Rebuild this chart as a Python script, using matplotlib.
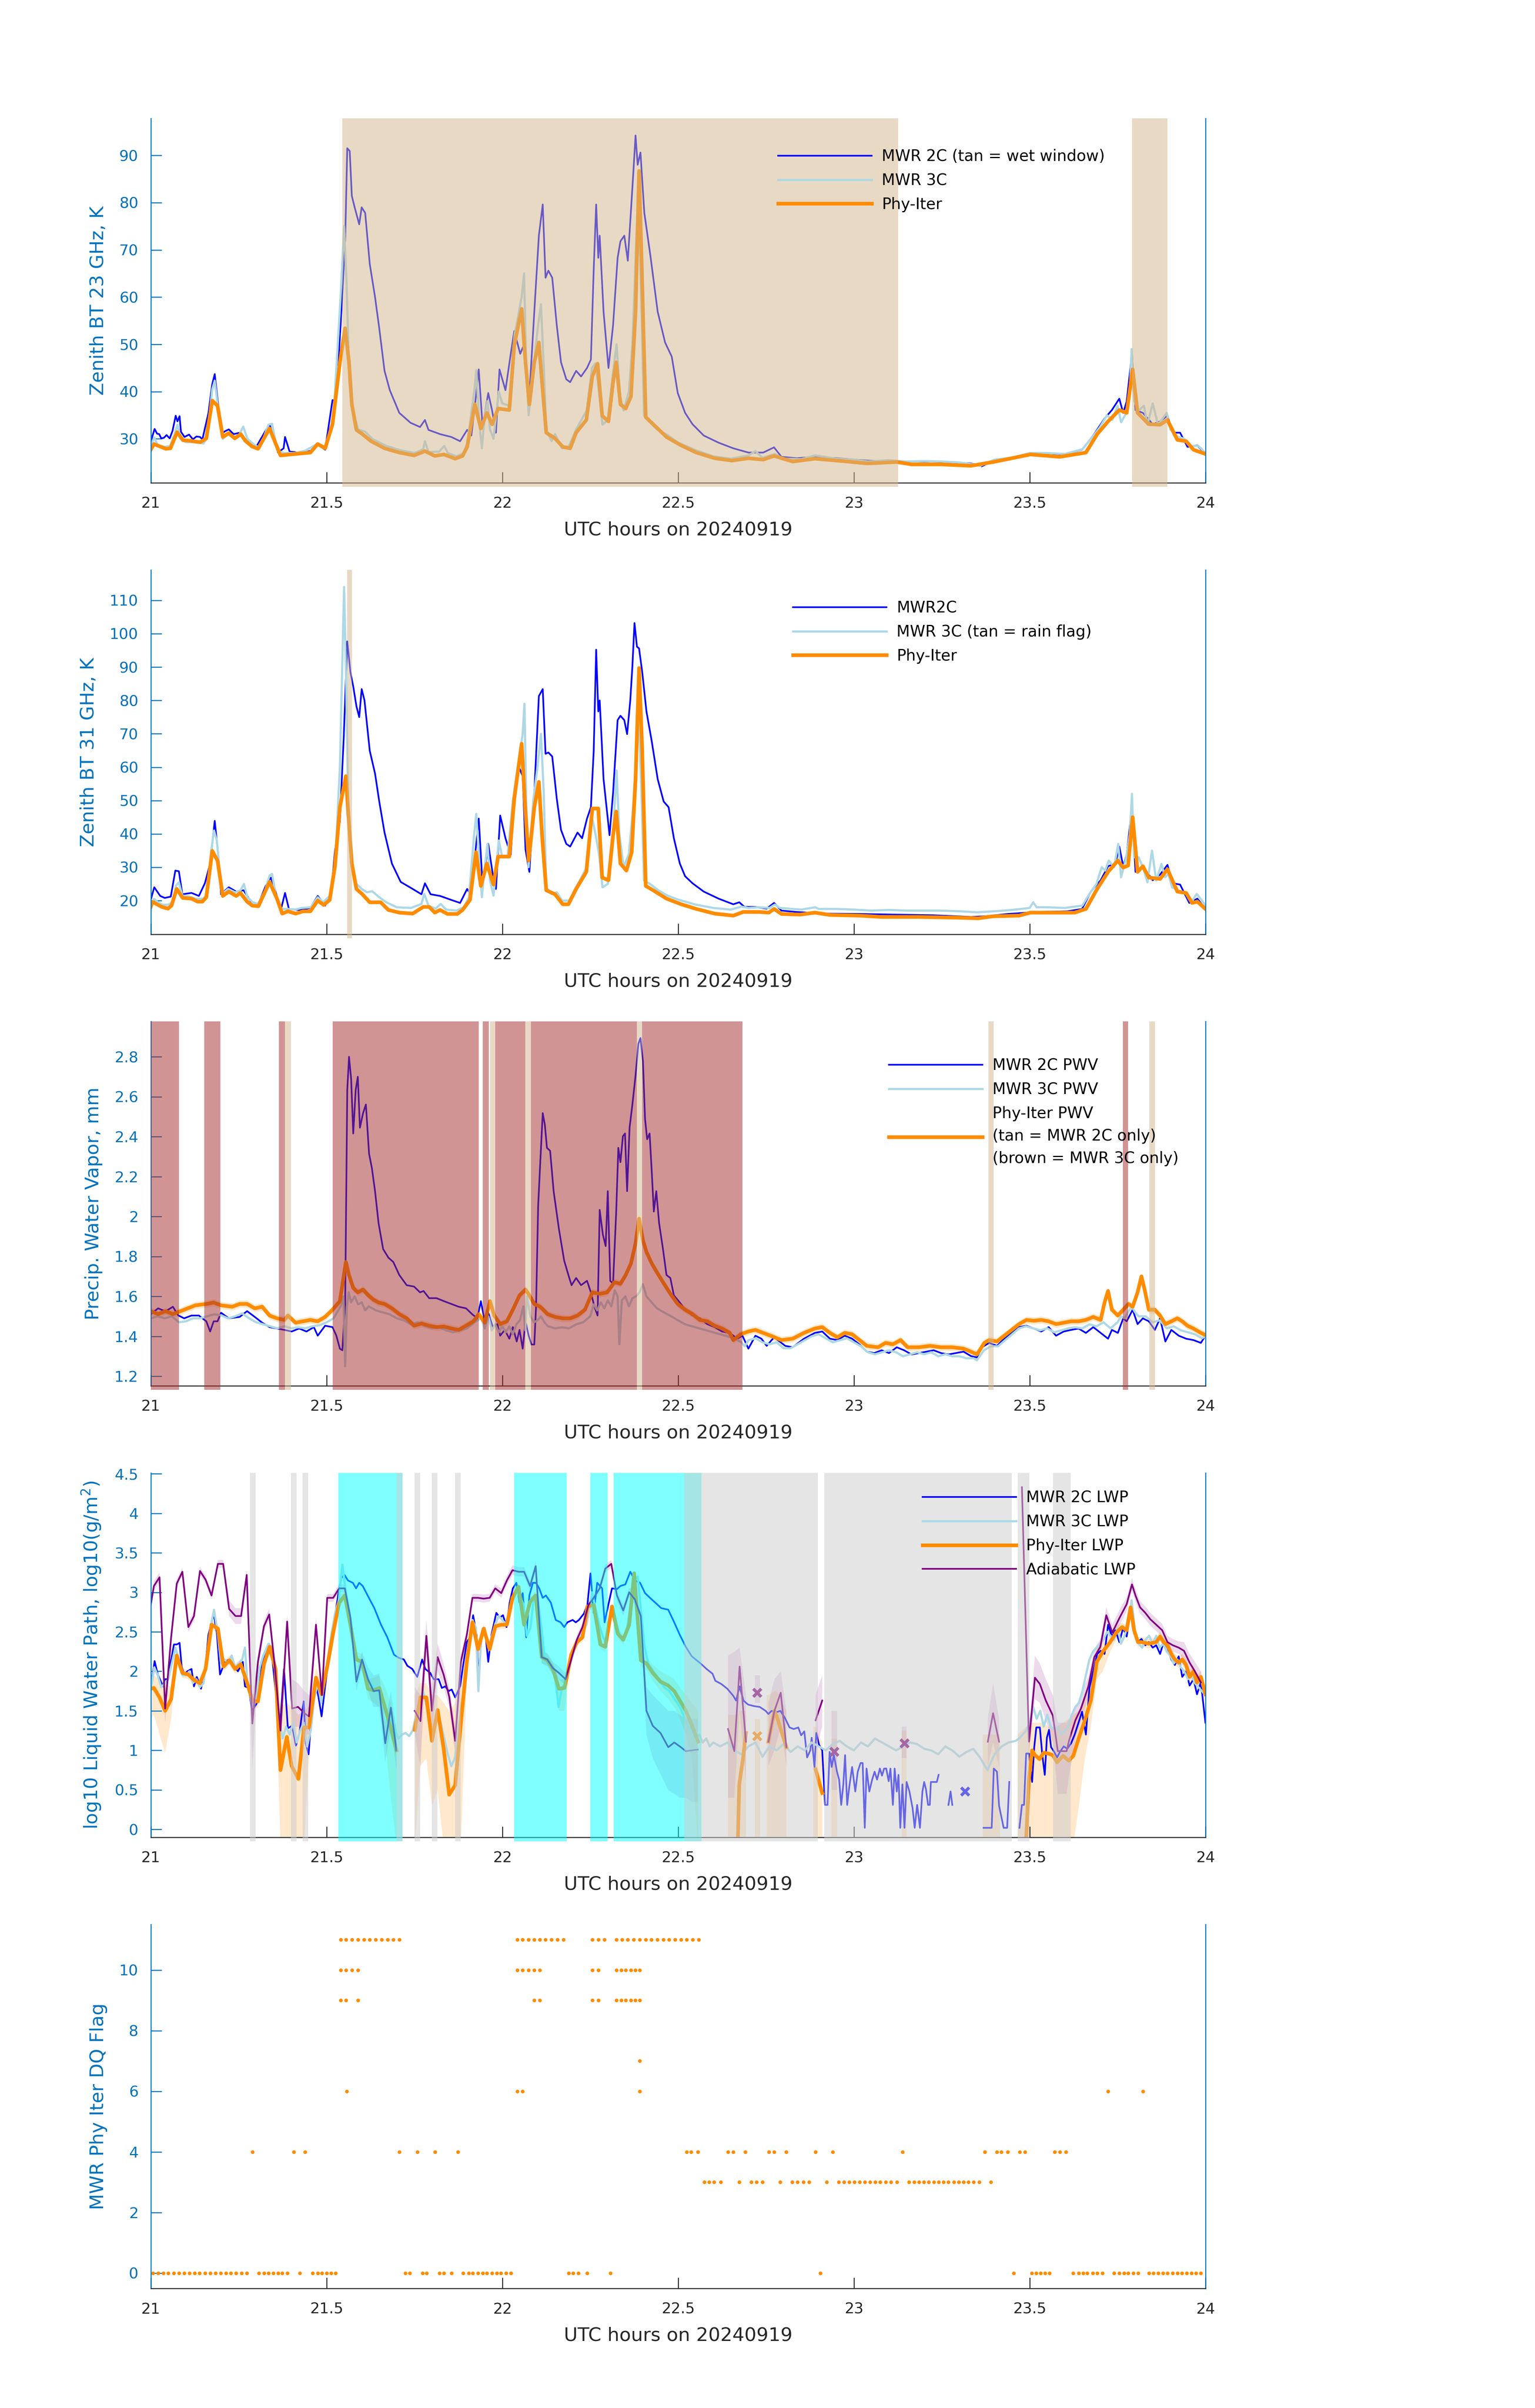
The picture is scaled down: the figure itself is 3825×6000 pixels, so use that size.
import numpy as np
import matplotlib
matplotlib.use('Agg')
import matplotlib.pyplot as plt
from matplotlib.ticker import FuncFormatter

nan = float('nan')

# ---------------- panel 1 : 23 GHz brightness temperature (hour, K) ----------------
bt23_2c = [(21.000,29.4),(21.011,32.1),(21.018,31.1),(21.024,31.0),(21.030,30.1),(21.037,30.2),(21.045,30.8),(21.054,30.1),
           (21.062,31.7),(21.071,34.9),(21.076,33.7),(21.082,34.8),(21.086,31.5),(21.096,30.4),(21.109,30.9),(21.120,29.9),
           (21.130,30.5),(21.140,30.4),(21.147,29.9),(21.154,32.2),(21.164,35.4),(21.175,41.6),(21.182,43.7),(21.188,39.7),
           (21.193,36.4),(21.202,31.1),(21.211,31.6),(21.222,32.0),(21.236,31.0),(21.253,31.3),(21.266,30.0),(21.280,29.7),
           (21.300,28.3),(21.325,31.5),(21.338,33.1),(21.350,30.0),(21.362,27.1),(21.378,28.0),(21.382,30.4),(21.395,27.3),
           (21.433,27.0),(21.460,27.6),(21.475,28.9),(21.496,27.7),(21.517,38.2),(21.527,38.0),(21.540,54.0),(21.553,71.8),
           (21.559,91.5),(21.566,90.9),(21.572,81.4),(21.580,79.0),(21.593,75.4),(21.600,79.0),(21.610,77.8),(21.623,67.0),
           (21.638,60.0),(21.650,53.4),(21.665,44.4),(21.680,40.3),(21.707,35.5),(21.739,33.4),(21.766,32.5),(21.780,34.0),
           (21.790,31.9),(21.823,31.0),(21.855,30.4),(21.880,29.5),(21.900,31.9),(21.912,30.7),(21.925,39.0),(21.933,44.7),
           (21.944,32.5),(21.960,39.7),(21.971,36.0),(21.982,31.3),(21.992,44.7),(22.009,40.3),(22.024,48.0),(22.034,52.8),
           (22.051,48.0),(22.062,50.0),(22.075,36.7),(22.091,56.9),(22.104,73.0),(22.115,79.6),(22.123,64.1),(22.131,65.6),
           (22.142,64.1),(22.155,54.0),(22.167,46.2),(22.182,42.6),(22.193,42.0),(22.210,44.4),(22.224,43.2),(22.241,45.0),
           (22.252,46.8),(22.260,65.9),(22.267,79.6),(22.273,68.3),(22.277,73.0),(22.288,56.9),(22.302,45.0),(22.315,54.0),
           (22.328,68.3),(22.336,71.8),(22.347,73.0),(22.357,67.7),(22.364,76.0),(22.372,85.5),(22.379,94.2),(22.385,88.0),
           (22.393,90.6),(22.404,77.8),(22.421,68.9),(22.442,56.9),(22.463,50.4),(22.482,47.4),(22.499,39.7),(22.520,35.5),
           (22.541,33.1),(22.573,30.7),(22.615,29.2),(22.657,28.0),(22.700,27.1),(22.742,27.1),(22.773,28.2),(22.794,26.2),
           (22.837,25.9),(22.889,26.2),(22.953,25.9),(23.037,25.4),(23.122,25.2),(23.227,25.2),(23.333,24.8),(23.364,24.2),
           (23.396,25.4),(23.450,25.9),(23.502,26.8),(23.586,26.5),(23.649,27.7),(23.681,30.7),(23.713,34.3),(23.734,36.1),
           (23.755,38.5),(23.766,35.5),(23.776,37.9),(23.791,48.0),(23.801,36.1),(23.822,35.5),(23.850,33.1),(23.871,33.7),
           (23.892,34.9),(23.907,31.3),(23.928,31.3),(23.949,28.3),(23.977,28.6),(24.000,26.8)]

bt23_3c = [(21.000,28.5),(21.010,30.3),(21.020,28.6),(21.040,28.3),(21.055,28.5),(21.070,31.5),(21.076,33.0),(21.085,30.0),
           (21.100,29.3),(21.130,29.3),(21.150,29.0),(21.160,30.3),(21.175,40.5),(21.182,42.3),(21.187,39.3),(21.195,34.0),
           (21.205,30.0),(21.220,31.0),(21.235,30.2),(21.250,30.6),(21.263,32.6),(21.275,30.0),(21.290,29.0),(21.310,28.0),
           (21.335,33.0),(21.345,33.2),(21.360,27.5),(21.380,27.0),(21.410,27.0),(21.440,27.5),(21.475,29.0),(21.500,28.2),
           (21.520,35.0),(21.540,60.0),(21.550,75.0),(21.557,63.0),(21.565,42.0),(21.575,36.0),(21.590,32.0),(21.610,31.5),
           (21.630,30.0),(21.670,28.5),(21.710,27.6),(21.750,27.0),(21.775,27.8),(21.780,29.5),(21.790,27.2),(21.820,27.3),
           (21.835,28.5),(21.845,27.0),(21.870,26.3),(21.890,27.0),(21.900,29.0),(21.920,40.0),(21.926,44.5),(21.935,33.0),
           (21.942,28.0),(21.950,35.0),(21.958,38.0),(21.965,32.0),(21.975,30.0),(21.990,40.0),(22.000,37.5),(22.020,37.0),
           (22.035,52.0),(22.055,60.0),(22.062,65.0),(22.068,45.0),(22.075,35.0),(22.085,42.0),(22.100,53.0),(22.110,58.5),
           (22.118,45.0),(22.125,32.0),(22.140,29.5),(22.150,31.0),(22.170,28.0),(22.190,28.5),(22.210,32.0),(22.240,36.0),
           (22.255,45.0),(22.265,46.0),(22.275,40.0),(22.285,33.0),(22.300,34.0),(22.315,44.0),(22.325,50.0),(22.335,39.0),
           (22.345,36.0),(22.360,40.0),(22.370,50.0),(22.380,70.0),(22.387,82.0),(22.395,60.0),(22.403,35.0),(22.420,33.5),
           (22.440,32.0),(22.470,30.8),(22.500,29.2),(22.550,27.6),(22.600,26.3),(22.650,25.8),(22.700,26.5),(22.720,27.4),
           (22.740,26.0),(22.775,26.8),(22.800,25.8),(22.850,25.7),(22.890,26.5),(22.950,25.8),(23.000,25.6),(23.040,25.2),
           (23.100,25.5),(23.150,25.2),(23.200,25.3),(23.250,25.2),(23.300,25.0),(23.340,24.6),(23.360,24.3),(23.400,25.6),
           (23.450,26.0),(23.500,27.0),(23.550,27.0),(23.600,26.8),(23.650,27.8),(23.680,30.5),(23.700,32.5),(23.720,35.0),
           (23.735,34.0),(23.750,37.0),(23.760,33.5),(23.775,35.5),(23.785,40.0),(23.790,49.0),(23.797,38.0),(23.810,36.0),
           (23.825,37.0),(23.835,33.0),(23.850,37.5),(23.865,33.0),(23.880,34.5),(23.890,35.5),(23.900,32.0),(23.920,30.5),
           (23.940,30.0),(23.960,28.5),(23.980,28.5),(24.000,27.0)]

bt23_phy = [(21.000,27.7),(21.009,28.9),(21.043,27.9),(21.056,28.0),(21.075,31.4),(21.092,29.7),(21.113,29.6),(21.128,29.4),
            (21.141,29.3),(21.158,30.1),(21.175,38.1),(21.190,37.0),(21.205,30.4),(21.222,31.2),(21.239,30.1),(21.256,31.0),
            (21.269,29.6),(21.288,28.4),(21.305,27.9),(21.338,32.2),(21.369,26.5),(21.410,26.8),(21.454,27.1),(21.475,28.9),
            (21.496,28.0),(21.517,33.1),(21.538,46.2),(21.553,53.4),(21.564,46.2),(21.572,37.3),(21.585,31.9),(21.602,31.0),
            (21.627,29.5),(21.665,28.0),(21.707,27.1),(21.749,26.5),(21.780,27.4),(21.808,26.4),(21.834,26.7),(21.866,25.8),
            (21.887,26.4),(21.900,28.3),(21.922,37.3),(21.939,32.2),(21.956,35.5),(21.971,33.1),(21.988,36.4),(22.020,36.1),
            (22.034,49.8),(22.055,57.5),(22.066,46.2),(22.077,37.3),(22.091,46.2),(22.104,50.4),(22.113,42.0),(22.125,31.3),
            (22.150,30.1),(22.172,28.3),(22.193,28.0),(22.210,31.3),(22.239,34.0),(22.256,43.2),(22.271,45.9),(22.284,34.9),
            (22.302,33.7),(22.315,42.0),(22.324,46.2),(22.336,37.3),(22.351,36.4),(22.366,39.0),(22.379,56.9),(22.389,86.7),
            (22.398,62.9),(22.408,34.6),(22.429,33.1),(22.467,30.4),(22.509,28.6),(22.552,27.1),(22.604,25.9),(22.653,25.4),
            (22.700,25.9),(22.742,25.6),(22.773,26.4),(22.826,25.2),(22.889,25.8),(22.953,25.4),(23.037,24.8),(23.122,25.1),
            (23.164,24.6),(23.248,24.6),(23.333,24.3),(23.396,25.1),(23.502,26.7),(23.586,26.2),(23.660,27.1),(23.692,31.0),
            (23.723,33.7),(23.755,36.1),(23.776,35.5),(23.793,44.7),(23.807,35.5),(23.839,33.1),(23.871,33.0),(23.892,34.0),
            (23.920,29.8),(23.945,29.5),(23.966,27.7),(24.000,26.8)]

wet_window = [(21.545, 23.126), (23.791, 23.892)]

# ---------------- panel 2 : 31 GHz brightness temperature ----------------
bt31_2c = [(21.000,20.2),(21.010,24.0),(21.027,21.4),(21.040,20.8),(21.057,21.2),(21.070,29.0),(21.080,28.8),(21.090,21.9),
           (21.116,22.3),(21.137,21.4),(21.154,25.2),(21.169,31.1),(21.182,43.9),(21.192,33.7),(21.200,21.9),(21.222,24.0),
           (21.243,22.7),(21.264,23.1),(21.285,19.7),(21.306,18.9),(21.327,24.4),(21.342,26.9),(21.353,23.5),(21.370,17.2),
           (21.382,22.3),(21.393,17.5),(21.422,17.2),(21.454,17.8),(21.475,21.4),(21.496,18.5),(21.513,21.9),(21.524,34.9),
           (21.538,43.8),(21.549,69.0),(21.559,97.7),(21.568,88.5),(21.576,84.2),(21.585,78.3),(21.593,75.0),(21.600,83.4),
           (21.608,80.0),(21.623,64.9),(21.638,58.1),(21.650,49.7),(21.665,40.4),(21.686,31.1),(21.711,25.6),(21.745,23.5),
           (21.770,21.9),(21.780,25.2),(21.796,21.9),(21.823,21.4),(21.855,20.2),(21.880,19.3),(21.900,23.5),(21.912,21.4),
           (21.925,36.2),(21.933,44.6),(21.944,24.4),(21.960,37.0),(21.973,27.8),(21.982,23.5),(21.994,45.5),(22.009,38.7),
           (22.024,33.7),(22.034,50.5),(22.045,60.6),(22.058,57.3),(22.066,35.3),(22.077,28.6),(22.091,52.2),(22.104,81.3),
           (22.115,83.4),(22.123,64.0),(22.131,64.4),(22.142,63.2),(22.155,50.5),(22.167,41.2),(22.182,37.0),(22.193,36.2),
           (22.214,40.4),(22.227,38.7),(22.241,44.6),(22.252,48.0),(22.260,64.9),(22.267,95.2),(22.273,76.7),(22.277,80.0),
           (22.288,56.4),(22.305,39.6),(22.315,52.2),(22.328,74.1),(22.336,75.4),(22.347,74.1),(22.355,69.9),(22.364,80.0),
           (22.370,90.2),(22.376,103.2),(22.383,96.1),(22.389,95.6),(22.398,88.5),(22.410,76.7),(22.425,67.8),(22.442,56.4),
           (22.459,49.7),(22.473,48.0),(22.488,38.7),(22.505,31.1),(22.520,27.3),(22.541,25.2),(22.573,22.7),(22.615,20.6),
           (22.657,18.9),(22.674,19.5),(22.689,18.1),(22.720,18.1),(22.752,17.6),(22.773,19.3),(22.794,17.0),(22.837,16.6),
           (22.910,16.1),(23.016,16.0),(23.122,15.8),(23.227,15.6),(23.333,15.1),(23.375,15.3),(23.438,16.0),(23.523,16.6),
           (23.607,16.8),(23.649,17.5),(23.674,22.7),(23.702,26.1),(23.723,30.3),(23.744,31.1),(23.755,36.2),(23.766,30.3),
           (23.776,33.7),(23.791,48.0),(23.801,28.6),(23.822,30.3),(23.850,26.1),(23.871,27.8),(23.892,30.7),(23.907,25.2),
           (23.928,24.8),(23.954,19.3),(23.977,20.6),(24.000,17.5)]

bt31_3c = [(21.000,19.0),(21.010,20.5),(21.020,19.5),(21.035,18.7),(21.050,18.8),(21.062,19.5),(21.072,24.5),(21.080,25.5),
           (21.090,21.5),(21.110,21.2),(21.130,20.5),(21.150,20.6),(21.160,22.0),(21.172,35.0),(21.180,41.0),(21.188,38.0),
           (21.195,30.0),(21.203,22.0),(21.220,23.5),(21.240,22.5),(21.255,23.0),(21.265,25.0),(21.275,21.0),(21.290,19.5),
           (21.305,19.0),(21.325,23.0),(21.338,27.5),(21.345,28.0),(21.355,22.0),(21.372,17.5),(21.390,17.5),(21.410,17.3),
           (21.430,17.8),(21.455,18.0),(21.475,21.0),(21.490,19.5),(21.510,21.5),(21.525,32.0),(21.538,60.0),(21.550,114.0),
           (21.556,85.0),(21.562,45.0),(21.570,33.0),(21.585,25.0),(21.600,23.5),(21.615,22.5),(21.630,22.8),(21.650,21.0),
           (21.670,19.5),(21.700,18.0),(21.740,17.8),(21.770,19.0),(21.778,22.0),(21.790,18.5),(21.810,17.6),(21.825,19.0),
           (21.840,17.3),(21.870,17.0),(21.890,18.0),(21.905,21.0),(21.920,40.0),(21.926,46.0),(21.935,30.0),(21.942,21.0),
           (21.950,30.0),(21.958,37.0),(21.965,26.0),(21.975,21.5),(21.990,38.0),(22.000,33.0),(22.015,33.5),(22.030,50.0),
           (22.045,61.0),(22.058,70.0),(22.063,79.0),(22.068,50.0),(22.075,30.0),(22.088,50.0),(22.100,60.0),(22.110,70.0),
           (22.118,52.0),(22.125,24.0),(22.140,22.0),(22.155,22.5),(22.170,20.0),(22.190,20.0),(22.210,24.0),(22.240,30.0),
           (22.255,45.0),(22.265,40.0),(22.275,34.0),(22.285,24.0),(22.300,25.0),(22.315,40.0),(22.325,59.0),(22.333,40.0),
           (22.345,30.0),(22.360,34.0),(22.372,48.0),(22.380,62.0),(22.387,78.0),(22.395,55.0),(22.403,26.0),(22.420,25.0),
           (22.445,23.0),(22.470,21.5),(22.500,20.3),(22.550,18.8),(22.600,17.8),(22.650,17.3),(22.680,18.2),(22.700,17.8),
           (22.730,18.0),(22.760,17.8),(22.775,18.8),(22.790,17.8),(22.850,17.3),(22.890,18.0),(22.900,17.5),(22.950,17.5),
           (23.000,17.3),(23.050,17.0),(23.100,17.2),(23.150,17.0),(23.200,17.0),(23.250,17.0),(23.300,16.8),(23.350,16.5),
           (23.400,16.8),(23.450,17.2),(23.500,17.8),(23.510,19.5),(23.520,18.0),(23.550,18.0),(23.600,17.8),(23.650,18.5),
           (23.670,22.0),(23.690,25.0),(23.705,30.0),(23.715,29.0),(23.725,32.0),(23.740,30.0),(23.752,37.0),(23.760,27.0),
           (23.775,33.0),(23.785,40.0),(23.791,52.0),(23.797,33.0),(23.810,33.0),(23.822,30.0),(23.835,25.5),(23.848,35.0),
           (23.860,26.0),(23.875,31.0),(23.885,27.0),(23.895,28.0),(23.905,24.0),(23.925,23.0),(23.945,22.0),(23.960,19.5),
           (23.975,22.0),(23.990,20.0),(24.000,18.5)]

bt31_phy = [(21.000,18.1),(21.005,19.6),(21.032,18.1),(21.049,17.6),(21.059,18.5),(21.074,23.5),(21.091,20.8),(21.116,20.6),
            (21.133,19.7),(21.147,19.7),(21.158,21.0),(21.175,34.9),(21.190,32.0),(21.205,21.4),(21.222,22.7),(21.243,21.4),
            (21.255,22.3),(21.274,19.7),(21.289,18.5),(21.306,18.3),(21.338,25.6),(21.359,20.6),(21.374,16.1),(21.390,16.8),
            (21.412,16.1),(21.433,16.8),(21.454,16.8),(21.475,20.0),(21.492,18.7),(21.509,20.2),(21.524,30.3),(21.538,48.0),
            (21.555,57.3),(21.564,42.9),(21.572,31.1),(21.585,23.5),(21.602,21.9),(21.623,19.5),(21.654,19.5),(21.676,17.2),
            (21.707,16.4),(21.745,16.1),(21.775,18.1),(21.792,18.1),(21.808,16.4),(21.823,17.2),(21.844,16.0),(21.872,16.0),
            (21.887,17.2),(21.908,20.2),(21.925,34.5),(21.939,24.4),(21.956,31.1),(21.975,24.8),(21.988,33.2),(22.020,33.2),
            (22.034,50.5),(22.055,67.0),(22.066,46.3),(22.075,32.0),(22.091,48.0),(22.104,55.6),(22.113,39.6),(22.125,23.1),
            (22.150,21.9),(22.172,18.9),(22.188,18.9),(22.210,23.5),(22.239,28.6),(22.256,47.6),(22.273,47.6),(22.284,26.9),
            (22.302,26.1),(22.315,39.6),(22.324,46.7),(22.336,31.1),(22.353,29.0),(22.368,34.5),(22.379,56.4),(22.389,89.7),
            (22.398,64.9),(22.408,24.4),(22.429,23.1),(22.467,20.6),(22.509,18.9),(22.552,17.5),(22.604,16.1),(22.657,15.5),
            (22.685,16.6),(22.731,16.6),(22.758,16.4),(22.773,17.5),(22.794,16.0),(22.847,15.8),(22.889,16.4),(22.932,15.7),
            (23.016,15.5),(23.079,15.1),(23.185,15.1),(23.290,14.9),(23.354,14.7),(23.396,15.3),(23.470,15.5),(23.502,16.4),
            (23.628,16.4),(23.660,17.5),(23.692,23.5),(23.723,28.6),(23.751,32.0),(23.766,29.9),(23.780,30.5),(23.793,45.0),
            (23.807,28.6),(23.822,30.3),(23.839,26.9),(23.871,26.5),(23.892,29.4),(23.920,22.7),(23.945,22.3),(23.962,19.3),
            (23.977,19.7),(24.000,17.5)]

rain_flag = [(21.559, 21.572)]

# ---------------- panel 3 : precipitable water vapour (mm) ----------------
pwv_2c = [(21.000,1.511),(21.021,1.540),(21.042,1.525),(21.063,1.548),(21.078,1.505),(21.095,1.490),(21.116,1.504),(21.137,1.504),
          (21.158,1.475),(21.169,1.424),(21.179,1.475),(21.190,1.475),(21.200,1.518),(21.222,1.490),(21.253,1.497),(21.274,1.526),
          (21.296,1.497),(21.317,1.468),(21.338,1.446),(21.359,1.439),(21.380,1.432),(21.401,1.424),(21.422,1.439),(21.443,1.424),
          (21.464,1.446),(21.475,1.403),(21.496,1.453),(21.517,1.446),(21.528,1.403),(21.538,1.338),(21.545,1.330),(21.553,1.562),
          (21.559,2.634),(21.564,2.800),(21.570,2.690),(21.576,2.416),(21.583,2.634),(21.589,2.700),(21.595,2.445),(21.604,2.518),
          (21.612,2.561),(21.621,2.315),(21.629,2.243),(21.638,2.127),(21.648,1.967),(21.661,1.837),(21.676,1.794),(21.690,1.772),
          (21.707,1.707),(21.728,1.656),(21.749,1.649),(21.766,1.620),(21.776,1.627),(21.792,1.591),(21.813,1.591),(21.834,1.576),
          (21.855,1.562),(21.876,1.548),(21.897,1.540),(21.914,1.511),(21.929,1.490),(21.939,1.576),(21.950,1.475),(21.960,1.519),
          (21.973,1.446),(21.986,1.461),(21.994,1.403),(22.007,1.432),(22.020,1.388),(22.030,1.446),(22.041,1.374),(22.049,1.432),
          (22.058,1.338),(22.066,1.475),(22.075,1.403),(22.083,1.359),(22.091,1.359),(22.096,1.548),(22.102,2.054),(22.108,2.272),
          (22.115,2.518),(22.121,2.460),(22.127,2.344),(22.136,2.329),(22.146,2.127),(22.161,1.938),(22.176,1.779),(22.188,1.707),
          (22.197,1.656),(22.210,1.692),(22.224,1.656),(22.241,1.678),(22.252,1.620),(22.262,1.548),(22.271,1.504),(22.277,2.033),
          (22.286,1.910),(22.294,1.852),(22.300,2.127),(22.307,1.678),(22.315,1.663),(22.324,2.025),(22.330,2.344),(22.336,2.272),
          (22.343,2.402),(22.349,2.416),(22.355,2.127),(22.362,2.445),(22.370,2.561),(22.379,2.706),(22.387,2.865),(22.393,2.894),
          (22.400,2.778),(22.406,2.489),(22.412,2.387),(22.419,2.416),(22.425,2.228),(22.431,2.025),(22.438,2.127),(22.446,1.967),
          (22.457,1.837),(22.467,1.707),(22.478,1.692),(22.488,1.605),(22.505,1.569),(22.520,1.533),(22.541,1.504),(22.562,1.490),
          (22.583,1.461),(22.604,1.446),(22.625,1.424),(22.647,1.417),(22.668,1.388),(22.683,1.403),(22.700,1.338),(22.720,1.403),
          (22.737,1.388),(22.752,1.352),(22.773,1.395),(22.805,1.352),(22.826,1.345),(22.858,1.388),(22.889,1.417),(22.910,1.424),
          (22.932,1.388),(22.953,1.381),(22.974,1.403),(22.995,1.388),(23.016,1.359),(23.037,1.323),(23.058,1.316),(23.079,1.330),
          (23.100,1.316),(23.122,1.345),(23.143,1.330),(23.164,1.309),(23.185,1.316),(23.206,1.323),(23.227,1.330),(23.248,1.316),
          (23.269,1.309),(23.290,1.316),(23.312,1.323),(23.333,1.301),(23.350,1.294),(23.364,1.345),(23.385,1.367),(23.407,1.352),
          (23.428,1.388),(23.449,1.417),(23.470,1.446),(23.491,1.453),(23.512,1.439),(23.533,1.424),(23.554,1.446),(23.575,1.403),
          (23.597,1.424),(23.618,1.432),(23.639,1.439),(23.660,1.417),(23.681,1.446),(23.702,1.417),(23.723,1.388),(23.734,1.432),
          (23.751,1.417),(23.766,1.490),(23.776,1.475),(23.793,1.533),(23.807,1.461),(23.822,1.490),(23.839,1.475),(23.856,1.432),
          (23.871,1.490),(23.886,1.374),(23.903,1.432),(23.924,1.403),(23.945,1.388),(23.966,1.381),(23.987,1.367),(24.000,1.403)]

pwv_3c = [(21.000,1.490),(21.020,1.500),(21.040,1.490),(21.060,1.500),(21.080,1.470),(21.100,1.475),(21.120,1.490),(21.140,1.490),
          (21.160,1.500),(21.180,1.510),(21.200,1.505),(21.220,1.490),(21.240,1.500),(21.260,1.515),(21.280,1.490),(21.300,1.470),
          (21.320,1.460),(21.340,1.450),(21.360,1.440),(21.380,1.450),(21.400,1.440),(21.420,1.445),(21.440,1.440),(21.460,1.450),
          (21.480,1.455),(21.500,1.470),(21.520,1.490),(21.540,1.550),(21.548,1.600),(21.553,1.250),(21.558,1.550),(21.563,1.620),
          (21.570,1.570),(21.580,1.600),(21.590,1.560),(21.600,1.570),(21.610,1.530),(21.620,1.550),(21.640,1.530),(21.660,1.520),
          (21.680,1.510),(21.700,1.490),(21.720,1.480),(21.740,1.460),(21.760,1.470),(21.780,1.450),(21.800,1.440),(21.820,1.445),
          (21.840,1.430),(21.860,1.420),(21.880,1.430),(21.900,1.440),(21.920,1.470),(21.940,1.490),(21.950,1.440),(21.960,1.500),
          (21.970,1.430),(21.980,1.460),(21.990,1.420),(22.000,1.450),(22.010,1.420),(22.020,1.450),(22.030,1.410),(22.040,1.460),
          (22.050,1.480),(22.060,1.550),(22.065,1.430),(22.070,1.600),(22.080,1.500),(22.090,1.470),(22.100,1.480),(22.110,1.500),
          (22.120,1.470),(22.130,1.450),(22.150,1.440),(22.170,1.445),(22.190,1.440),(22.210,1.460),(22.230,1.470),(22.250,1.500),
          (22.260,1.560),(22.270,1.530),(22.280,1.570),(22.290,1.540),(22.300,1.580),(22.310,1.550),(22.320,1.630),(22.328,1.600),
          (22.333,1.360),(22.340,1.580),(22.350,1.600),(22.360,1.550),(22.370,1.590),(22.380,1.600),(22.390,1.620),(22.400,1.660),
          (22.410,1.600),(22.420,1.580),(22.440,1.540),(22.460,1.520),(22.480,1.500),(22.500,1.480),(22.520,1.460),(22.540,1.450),
          (22.560,1.440),(22.580,1.430),(22.600,1.420),(22.620,1.410),(22.640,1.400),(22.660,1.390),(22.680,1.370),(22.690,1.350),
          (22.700,1.380),(22.720,1.390),(22.740,1.370),(22.760,1.360),(22.780,1.370),(22.800,1.340),(22.820,1.340),(22.840,1.360),
          (22.860,1.380),(22.880,1.400),(22.900,1.410),(22.920,1.390),(22.940,1.370),(22.960,1.380),(22.980,1.390),(23.000,1.370),
          (23.020,1.350),(23.040,1.320),(23.060,1.310),(23.080,1.320),(23.100,1.330),(23.120,1.320),(23.140,1.300),(23.160,1.310),
          (23.180,1.320),(23.200,1.310),(23.220,1.320),(23.240,1.300),(23.260,1.310),(23.280,1.300),(23.300,1.300),(23.320,1.290),
          (23.340,1.290),(23.350,1.280),(23.370,1.330),(23.390,1.350),(23.410,1.350),(23.430,1.380),(23.450,1.410),(23.470,1.440),
          (23.490,1.450),(23.510,1.440),(23.530,1.430),(23.550,1.440),(23.570,1.420),(23.590,1.430),(23.610,1.440),(23.630,1.445),
          (23.650,1.440),(23.670,1.460),(23.690,1.450),(23.710,1.470),(23.730,1.440),(23.750,1.470),(23.760,1.500),(23.770,1.490),
          (23.780,1.520),(23.790,1.550),(23.800,1.520),(23.810,1.500),(23.830,1.500),(23.850,1.470),(23.870,1.480),(23.890,1.440),
          (23.910,1.450),(23.930,1.430),(23.950,1.420),(23.970,1.410),(23.990,1.390),(24.000,1.400)]

pwv_phy = [(21.000,1.526),(21.021,1.511),(21.042,1.526),(21.063,1.511),(21.095,1.533),(21.127,1.555),(21.158,1.562),(21.179,1.569),
           (21.200,1.555),(21.232,1.548),(21.253,1.562),(21.274,1.562),(21.296,1.540),(21.317,1.548),(21.338,1.504),(21.359,1.490),
           (21.380,1.482),(21.390,1.504),(21.412,1.468),(21.433,1.475),(21.454,1.482),(21.475,1.475),(21.496,1.497),(21.517,1.533),
           (21.538,1.576),(21.555,1.772),(21.564,1.707),(21.576,1.642),(21.589,1.620),(21.604,1.634),(21.619,1.605),(21.633,1.584),
           (21.648,1.569),(21.665,1.562),(21.686,1.540),(21.707,1.511),(21.728,1.490),(21.749,1.453),(21.770,1.464),(21.792,1.453),
           (21.813,1.446),(21.834,1.449),(21.855,1.439),(21.876,1.432),(21.897,1.453),(21.918,1.475),(21.933,1.511),(21.950,1.468),
           (21.965,1.576),(21.977,1.504),(21.994,1.461),(22.013,1.475),(22.030,1.533),(22.049,1.605),(22.066,1.634),(22.077,1.605),
           (22.091,1.562),(22.108,1.548),(22.129,1.511),(22.150,1.497),(22.172,1.490),(22.193,1.490),(22.214,1.504),(22.235,1.533),
           (22.256,1.620),(22.277,1.613),(22.298,1.620),(22.319,1.671),(22.336,1.663),(22.351,1.707),(22.366,1.765),(22.379,1.866),
           (22.389,1.989),(22.400,1.881),(22.410,1.823),(22.425,1.765),(22.442,1.714),(22.457,1.671),(22.478,1.613),(22.499,1.562),
           (22.520,1.533),(22.541,1.511),(22.562,1.482),(22.583,1.475),(22.604,1.453),(22.625,1.439),(22.647,1.417),(22.657,1.381),
           (22.678,1.410),(22.700,1.424),(22.720,1.432),(22.742,1.417),(22.763,1.403),(22.794,1.381),(22.826,1.388),(22.858,1.417),
           (22.889,1.439),(22.910,1.446),(22.932,1.417),(22.953,1.395),(22.974,1.417),(22.995,1.410),(23.016,1.381),(23.037,1.352),
           (23.069,1.345),(23.090,1.367),(23.111,1.360),(23.133,1.381),(23.153,1.345),(23.185,1.345),(23.217,1.352),(23.248,1.345),
           (23.280,1.345),(23.312,1.338),(23.333,1.323),(23.350,1.309),(23.371,1.367),(23.385,1.381),(23.407,1.374),(23.428,1.403),
           (23.449,1.432),(23.470,1.461),(23.491,1.482),(23.512,1.478),(23.533,1.482),(23.554,1.475),(23.575,1.461),(23.597,1.468),
           (23.618,1.475),(23.639,1.475),(23.660,1.482),(23.681,1.497),(23.702,1.482),(23.713,1.569),(23.723,1.627),(23.734,1.533),
           (23.751,1.504),(23.766,1.533),(23.781,1.562),(23.793,1.548),(23.807,1.620),(23.818,1.700),(23.827,1.634),(23.839,1.533),
           (23.856,1.533),(23.871,1.504),(23.886,1.461),(23.903,1.475),(23.920,1.490),(23.934,1.475),(23.949,1.453),(23.966,1.439),
           (23.987,1.417),(24.000,1.406)]
pwv_phy_unc = 0.018

pwv_2c_only = [(21.382, 21.399), (21.965, 21.980), (22.066, 22.081), (22.383, 22.398), (23.383, 23.398), (23.840, 23.857)]
pwv_3c_only = [(21.000, 21.080), (21.152, 21.198), (21.365, 21.382), (21.517, 21.933), (21.945, 21.962),
               (21.980, 22.066), (22.081, 22.383), (22.398, 22.683), (23.765, 23.780)]

# ---------------- panel 4 : log10 liquid water path ----------------
lwp_2c = [(21.000,1.78),(21.011,2.13),(21.020,1.96),(21.035,1.81),(21.040,1.90),(21.048,1.90),(21.057,2.12),(21.066,2.34),
          (21.074,2.34),(21.082,2.36),(21.088,2.06),(21.095,1.96),(21.104,2.00),(21.116,2.03),(21.123,1.81),(21.131,1.93),
          (21.143,1.78),(21.155,2.03),(21.164,2.46),(21.179,2.73),(21.188,2.49),(21.197,1.96),(21.211,2.12),(21.223,2.15),
          (21.234,2.09),(21.248,2.00),(21.262,2.12),(21.268,1.81),(21.279,1.79),(21.288,1.50),(21.301,1.59),(21.318,2.12),
          (21.335,2.29),(21.346,2.15),(21.367,1.25),(21.379,2.03),(21.390,1.28),(21.402,1.31),(21.413,1.06),(21.423,1.22),
          (21.435,1.62),(21.441,1.09),(21.449,0.95),(21.458,1.50),(21.468,1.87),(21.477,1.68),(21.486,1.43),(21.496,1.81),
          (21.505,2.12),(21.519,2.56),(21.533,2.96),(21.542,3.18),(21.551,3.22),(21.561,3.15),(21.575,3.12),(21.584,3.05),
          (21.593,3.12),(21.603,3.08),(21.617,2.96),(21.636,2.80),(21.655,2.59),(21.673,2.43),(21.692,2.21),(21.706,2.17),
          (21.720,2.15),(21.730,2.07),(21.744,2.03),(21.758,1.93),(21.772,2.15),(21.781,2.03),(21.795,1.98),(21.805,1.90),
          (21.819,1.90),(21.828,1.79),(21.838,1.81),(21.847,1.75),(21.856,1.77),(21.866,1.67),(21.880,1.81),(21.889,2.09),
          (21.899,2.37),(21.908,2.43),(21.917,2.71),(21.927,2.46),(21.932,1.93),(21.941,2.43),(21.951,2.52),(21.960,2.12),
          (21.969,2.46),(21.983,2.74),(21.993,2.68),(22.002,2.71),(22.012,2.56),(22.021,2.87),(22.030,3.05),(22.040,3.12),
          (22.049,2.87),(22.058,2.99),(22.068,2.43),(22.077,2.96),(22.087,3.12),(22.096,3.12),(22.105,3.05),(22.115,2.93),
          (22.124,2.96),(22.138,2.87),(22.152,2.65),(22.166,2.62),(22.176,2.56),(22.185,2.62),(22.200,2.65),(22.209,2.62),
          (22.218,2.65),(22.232,2.73),(22.242,2.84),(22.251,3.24),(22.260,2.74),(22.270,3.12),(22.284,3.05),(22.291,2.62),
          (22.303,2.87),(22.312,3.05),(22.326,3.04),(22.336,3.08),(22.350,3.10),(22.364,3.26),(22.378,3.15),(22.392,3.12),
          (22.406,2.99),(22.420,2.93),(22.435,2.87),(22.452,2.80),(22.472,2.78),(22.489,2.62),(22.505,2.46),(22.522,2.31),
          (22.539,2.19),(22.564,2.10),(22.581,2.03),(22.598,1.97),(22.606,1.88),(22.623,1.84),(22.640,1.78),(22.657,1.69),
          (22.665,1.63),(22.675,1.81),(22.686,1.63),(22.699,1.58),(22.716,1.56),(22.732,1.55),(22.749,1.50),(22.757,1.46),
          (22.766,1.50),(22.778,1.48),(22.791,1.50),(22.804,1.41),(22.817,1.29),(22.829,1.27),(22.842,1.29),(22.850,1.19),
          (22.859,1.24),(22.867,0.91),(22.876,1.00),(22.880,1.16),(22.888,0.79),(22.893,1.22),(22.901,1.07),(22.910,1.00),
          (22.918,0.31),(22.925,0.31),(22.931,0.98),(22.937,0.79),(22.943,0.94),(22.952,0.73),(22.958,0.63),(22.964,0.31),
          (22.970,0.57),(22.975,0.94),(22.981,0.31),(22.987,0.54),(22.995,0.79),(23.004,0.48),(23.011,0.73),(23.019,0.84),
          (23.025,0.84),(23.031,0.02),(23.036,0.77),(23.044,0.48),(23.052,0.63),(23.059,0.73),(23.066,0.63),(23.074,0.77),
          (23.080,0.68),(23.086,0.77),(23.092,0.77),(23.099,0.61),(23.104,0.77),(23.111,0.31),(23.116,0.77),(23.122,0.48),
          (23.127,0.69),(23.132,0.02),(23.138,0.57),(23.144,0.02),(23.150,0.60),(23.158,0.48),(23.167,0.27),(23.173,0.02),
          (23.180,0.31),(23.188,0.02),(23.195,0.48),(23.200,0.60),(23.205,0.51),(23.211,0.31),(23.216,0.31),(23.219,0.60),
          (23.236,0.60),(23.241,0.69),(23.255,nan),(23.269,0.31),(23.275,0.48),(23.280,0.31),(23.300,nan),(23.369,0.02),
          (23.392,0.02),(23.398,0.77),(23.407,0.73),(23.413,0.30),(23.426,0.02),(23.436,0.02),(23.442,0.60),(23.455,nan),
          (23.471,0.02),(23.478,0.31),(23.484,0.31),(23.490,0.96),(23.498,0.96),(23.507,0.60),(23.513,1.04),(23.519,1.29),
          (23.529,1.29),(23.536,0.94),(23.543,0.69),(23.549,1.16),(23.555,1.26),(23.561,1.04),(23.570,0.98),(23.578,0.91),
          (23.586,0.98),(23.597,1.05),(23.607,1.02),(23.618,1.09),(23.628,1.20),(23.639,1.35),(23.649,1.49),(23.660,1.20),
          (23.670,1.79),(23.681,2.00),(23.692,2.22),(23.702,2.26),(23.713,2.22),(23.723,2.59),(23.734,2.44),(23.744,2.52),
          (23.755,2.37),(23.766,2.55),(23.776,2.44),(23.787,2.77),(23.797,2.48),(23.808,2.37),(23.818,2.41),(23.829,2.33),
          (23.839,2.37),(23.850,2.30),(23.860,2.33),(23.871,2.22),(23.881,2.37),(23.892,2.30),(23.903,2.15),(23.913,2.08),
          (23.924,2.19),(23.934,1.93),(23.945,2.00),(23.955,1.82),(23.966,1.90),(23.976,1.71),(23.987,1.86),(24.000,1.35)]

lwp_3c = [(21.000,1.75),(21.010,2.05),(21.020,1.95),(21.030,1.80),(21.040,1.85),(21.050,1.90),(21.060,2.10),(21.070,2.30),
          (21.080,2.15),(21.090,1.95),(21.100,1.95),(21.110,2.00),(21.120,1.85),(21.130,1.90),(21.140,1.80),(21.150,1.85),
          (21.160,2.20),(21.170,2.55),(21.180,2.78),(21.190,2.50),(21.200,2.10),(21.210,2.15),(21.220,2.10),(21.230,2.20),
          (21.240,2.05),(21.250,2.10),(21.260,2.15),(21.268,2.30),(21.275,1.85),(21.290,1.55),(21.300,1.65),(21.310,2.05),
          (21.320,2.20),(21.335,2.35),(21.345,2.30),(21.355,2.00),(21.365,1.40),(21.375,1.15),(21.385,1.30),(21.395,1.20),
          (21.405,1.35),(21.415,1.10),(21.425,1.25),(21.435,1.35),(21.445,1.05),(21.455,1.25),(21.465,1.65),(21.475,1.85),
          (21.485,1.60),(21.495,1.90),(21.505,2.20),(21.515,2.50),(21.525,2.75),(21.535,2.90),(21.545,3.35),(21.555,3.00),
          (21.565,2.75),(21.575,2.45),(21.585,2.20),(21.595,2.10),(21.605,2.05),(21.615,1.95),(21.625,1.85),(21.635,1.80),
          (21.645,1.75),(21.655,1.70),(21.665,1.55),(21.675,1.45),(21.685,1.35),(21.695,1.25),(21.705,1.15),(21.715,1.20),
          (21.725,1.22),(21.735,1.18),(21.745,1.25),(21.755,1.45),(21.765,1.65),(21.775,1.75),(21.785,1.55),(21.795,1.35),
          (21.805,1.30),(21.815,1.45),(21.825,1.35),(21.835,1.15),(21.845,0.95),(21.855,0.80),(21.865,0.90),(21.875,1.25),
          (21.885,1.60),(21.895,1.95),(21.905,2.30),(21.915,2.65),(21.925,2.55),(21.932,1.75),(21.940,2.45),(21.950,2.55),
          (21.960,2.30),(21.970,2.45),(21.980,2.60),(21.990,2.70),(22.000,2.65),(22.010,2.60),(22.020,2.75),(22.030,2.90),
          (22.040,3.00),(22.050,2.95),(22.060,2.85),(22.070,2.45),(22.080,2.55),(22.090,2.95),(22.100,2.95),(22.110,2.60),
          (22.120,2.20),(22.130,2.10),(22.140,2.05),(22.150,1.95),(22.160,1.55),(22.170,1.80),(22.180,1.85),(22.190,2.05),
          (22.200,2.20),(22.210,2.35),(22.220,2.45),(22.230,2.50),(22.240,2.60),(22.255,3.00),(22.265,2.80),(22.275,2.60),
          (22.285,2.45),(22.295,2.35),(22.305,2.60),(22.315,2.80),(22.325,2.60),(22.335,2.45),(22.345,2.40),(22.355,2.55),
          (22.365,2.85),(22.375,3.15),(22.385,3.20),(22.395,2.75),(22.405,2.30),(22.415,2.10),(22.430,2.00),(22.445,1.90),
          (22.460,1.80),(22.475,1.75),(22.490,1.65),(22.505,1.55),(22.520,1.40),(22.535,1.25),(22.550,1.15),(22.560,1.20),
          (22.570,1.10),(22.580,1.15),(22.590,1.05),(22.600,1.10),(22.620,1.05),(22.640,1.10),(22.660,1.00),(22.680,0.95),
          (22.700,1.05),(22.720,1.10),(22.740,0.92),(22.760,1.05),(22.780,1.00),(22.800,1.08),(22.820,0.98),(22.840,1.05),
          (22.860,1.00),(22.880,1.10),(22.900,1.05),(22.920,1.00),(22.940,1.08),(22.960,1.12),(22.980,1.05),(23.000,1.00),
          (23.020,1.10),(23.040,1.05),(23.060,1.15),(23.080,1.10),(23.100,1.05),(23.120,1.00),(23.140,1.05),(23.160,1.10),
          (23.180,1.08),(23.200,1.02),(23.220,1.00),(23.240,0.95),(23.260,1.05),(23.280,1.00),(23.300,0.92),(23.320,0.98),
          (23.340,1.02),(23.360,0.90),(23.380,0.75),(23.400,0.95),(23.420,1.05),(23.440,1.10),(23.460,1.12),(23.470,1.15),
          (23.480,1.20),(23.490,1.25),(23.500,1.35),(23.510,1.55),(23.520,1.40),(23.530,1.50),(23.540,1.30),(23.550,1.45),
          (23.560,1.30),(23.570,1.25),(23.580,1.30),(23.590,1.20),(23.600,1.25),(23.610,1.30),(23.620,1.45),(23.630,1.55),
          (23.640,1.60),(23.650,1.75),(23.660,1.95),(23.670,2.15),(23.680,2.25),(23.690,2.30),(23.700,2.35),(23.710,2.40),
          (23.720,2.50),(23.730,2.45),(23.740,2.40),(23.750,2.55),(23.760,2.35),(23.770,2.45),(23.780,2.60),(23.790,2.90),
          (23.800,2.50),(23.810,2.35),(23.820,2.30),(23.830,2.40),(23.840,2.45),(23.850,2.35),(23.860,2.45),(23.870,2.30),
          (23.880,2.35),(23.890,2.25),(23.900,2.20),(23.910,2.10),(23.920,2.15),(23.930,2.05),(23.940,2.00),(23.950,1.90),
          (23.960,1.95),(23.970,1.85),(23.980,1.80),(23.990,1.75),(24.000,1.70)]

# (hour, value, band low, band high)
lwp_phy = [(21.000,1.78,1.40,1.95),(21.009,1.79,1.45,1.95),(21.025,1.67,1.20,1.90),(21.041,1.50,0.97,1.85),(21.058,1.65,1.40,1.80),
           (21.074,2.20,2.14,2.26),(21.090,1.98,1.92,2.04),(21.107,1.96,1.90,2.02),(21.123,1.89,1.83,1.95),(21.140,1.85,1.79,1.91),
           (21.156,2.03,1.97,2.09),(21.173,2.59,2.53,2.65),(21.191,2.54,2.48,2.60),(21.207,2.06,2.00,2.12),(21.224,2.14,2.08,2.20),
           (21.240,2.03,1.97,2.09),(21.256,2.09,2.02,2.16),(21.273,1.87,1.79,1.95),(21.290,1.62,1.52,1.72),(21.305,1.62,1.54,1.70),
           (21.322,2.09,2.03,2.15),(21.338,2.31,2.25,2.37),(21.355,2.03,1.90,2.15),(21.369,0.75,-0.2,1.55),(21.387,1.17,-0.2,1.60),
           (21.401,0.80,-0.2,1.55),(21.420,0.64,-0.2,1.45),(21.436,1.29,-0.2,1.50),(21.450,1.29,0.95,1.55),(21.470,1.92,1.80,2.05),
           (21.486,1.71,1.55,1.85),(21.502,2.06,1.95,2.15),(21.519,2.49,2.40,2.57),(21.536,2.87,2.80,2.95),(21.552,2.96,2.90,3.02),
           (21.568,2.59,2.50,2.68),(21.585,2.15,2.05,2.25),(21.601,2.12,2.00,2.22),(21.618,1.78,1.65,1.90),(21.634,1.76,1.60,1.92),
           (21.650,1.79,1.55,1.95),(21.667,1.53,1.10,1.80),(21.683,1.28,0.40,1.60),(21.699,1.00,-0.2,1.30),(21.720,nan,nan,nan),
           (21.751,1.26,-0.2,1.70),(21.767,1.67,0.80,1.85),(21.784,1.67,0.90,1.85),(21.800,1.12,0.30,1.70),(21.816,1.51,0.50,1.70),
           (21.833,1.03,-0.2,1.60),(21.849,0.44,-0.2,1.50),(21.866,0.56,-0.2,1.60),(21.882,1.34,-0.2,1.80),(21.899,2.12,1.90,2.30),
           (21.915,2.62,2.55,2.70),(21.931,2.28,2.22,2.34),(21.947,2.54,2.48,2.60),(21.964,2.28,2.22,2.34),(21.980,2.57,2.51,2.63),
           (21.997,2.59,2.54,2.64),(22.013,2.59,2.54,2.64),(22.029,2.93,2.88,2.98),(22.046,3.07,3.02,3.12),(22.062,2.59,2.53,2.65),
           (22.079,2.88,2.82,2.94),(22.095,2.96,2.90,3.02),(22.112,2.18,2.10,2.26),(22.128,2.14,2.06,2.22),(22.144,2.03,1.95,2.11),
           (22.161,1.78,1.50,1.90),(22.177,1.79,1.50,1.90),(22.196,2.21,2.15,2.27),(22.212,2.37,2.32,2.42),(22.228,2.43,2.38,2.48),
           (22.242,2.82,2.77,2.87),(22.260,2.84,2.79,2.89),(22.279,2.34,2.28,2.40),(22.293,2.31,2.25,2.37),(22.312,2.82,2.77,2.87),
           (22.328,2.48,2.42,2.54),(22.344,2.40,2.34,2.46),(22.361,2.59,2.53,2.65),(22.375,3.24,3.19,3.29),(22.394,2.14,2.06,2.22),
           (22.410,2.10,2.02,2.18),(22.428,1.98,1.88,2.08),(22.450,1.87,1.75,2.00),(22.472,1.82,1.65,1.95),(22.489,1.75,1.55,1.90),
           (22.505,1.63,1.40,1.80),(22.522,1.50,1.20,1.70),(22.539,1.32,0.90,1.60),(22.557,1.11,-0.2,1.50),(22.600,nan,nan,nan),
           (22.642,nan,-0.2,1.45),(22.660,nan,-0.2,1.45),(22.670,-0.13,-0.2,1.45),(22.674,0.57,-0.2,1.50),(22.685,0.91,-0.2,1.50),
           (22.693,1.22,-0.2,1.50),(22.700,nan,nan,nan),(22.752,nan,-0.2,1.70),(22.757,1.11,-0.2,1.70),(22.774,1.50,-0.2,1.75),
           (22.782,1.41,-0.2,1.75),(22.808,1.04,-0.2,1.50),(22.812,nan,nan,nan),(22.885,nan,-0.2,1.30),(22.891,0.76,-0.2,1.30),
           (22.910,0.46,-0.2,1.10),(22.915,nan,nan,nan),(23.466,nan,-0.2,1.20),(23.490,-0.13,-0.2,1.30),(23.498,0.63,-0.2,1.30),
           (23.507,1.00,-0.2,1.35),(23.515,0.94,-0.2,1.35),(23.528,0.89,-0.2,1.35),(23.540,0.97,-0.2,1.35),(23.553,0.96,-0.2,1.30),
           (23.566,0.94,-0.2,1.30),(23.578,0.85,-0.2,1.30),(23.595,0.93,-0.2,1.35),(23.611,0.87,-0.2,1.40),(23.624,0.93,-0.2,1.45),
           (23.640,1.16,0.30,1.50),(23.657,1.38,0.90,1.65),(23.674,1.63,1.30,1.85),(23.691,2.12,1.90,2.30),(23.708,2.25,2.00,2.40),
           (23.729,2.37,2.25,2.50),(23.746,2.49,2.40,2.58),(23.763,2.56,2.50,2.62),(23.776,2.52,2.46,2.58),(23.787,2.81,2.75,2.87),
           (23.797,2.52,2.46,2.58),(23.808,2.37,2.31,2.43),(23.818,2.37,2.31,2.43),(23.839,2.35,2.29,2.41),(23.860,2.37,2.31,2.43),
           (23.871,2.44,2.38,2.50),(23.881,2.37,2.31,2.43),(23.892,2.33,2.27,2.39),(23.903,2.22,2.15,2.29),(23.913,2.15,2.08,2.22),
           (23.924,2.11,2.04,2.18),(23.934,2.15,2.08,2.22),(23.945,2.08,2.00,2.16),(23.955,1.93,1.85,2.01),(23.966,2.00,1.92,2.08),
           (23.976,1.86,1.78,1.94),(23.987,1.93,1.85,2.01),(24.000,1.71,1.60,1.80)]

lwp_adi = [(21.000,2.84,2.78,2.90),(21.009,3.08,3.02,3.14),(21.025,3.19,3.13,3.25),(21.041,1.53,1.35,1.70),(21.058,2.43,2.35,2.51),
           (21.074,3.11,3.06,3.16),(21.090,3.26,3.21,3.31),(21.107,2.56,2.50,2.62),(21.123,2.70,2.64,2.76),(21.140,3.27,3.22,3.32),
           (21.156,3.16,3.11,3.21),(21.173,2.96,2.91,3.01),(21.191,3.36,3.31,3.41),(21.206,3.36,3.31,3.41),(21.223,2.79,2.70,2.90),
           (21.241,2.70,2.60,2.80),(21.257,2.70,2.60,2.80),(21.273,3.22,3.16,3.28),(21.289,1.34,0.75,1.65),(21.305,2.12,2.02,2.22),
           (21.322,2.57,2.50,2.64),(21.337,2.72,2.65,2.79),(21.353,2.06,1.95,2.17),(21.369,1.25,1.10,1.40),(21.388,2.63,2.55,2.71),
           (21.402,1.53,1.30,1.90),(21.419,1.55,1.30,1.85),(21.437,1.47,1.20,1.75),(21.450,1.43,1.20,1.70),(21.470,2.59,2.50,2.68),
           (21.487,1.70,1.60,1.80),(21.502,2.93,2.88,2.98),(21.519,2.93,2.88,2.98),(21.536,3.05,3.00,3.10),(21.552,3.05,3.00,3.10),
           (21.568,2.68,2.60,2.76),(21.585,1.87,1.75,1.99),(21.601,2.15,2.05,2.25),(21.618,1.90,1.75,2.05),(21.634,1.75,1.55,1.95),
           (21.650,1.76,1.55,1.97),(21.667,1.09,0.85,1.35),(21.683,1.54,1.30,1.75),(21.699,1.00,0.75,1.25),(21.720,nan,nan,nan),
           (21.751,1.50,1.20,1.80),(21.767,1.37,0.80,1.70),(21.784,2.45,2.25,2.65),(21.800,1.50,1.20,1.80),(21.816,2.18,2.00,2.35),
           (21.833,1.96,1.80,2.10),(21.849,1.68,1.55,1.80),(21.866,1.12,0.95,1.30),(21.882,2.12,2.02,2.22),(21.899,2.46,2.40,2.52),
           (21.915,2.93,2.88,2.98),(21.931,2.93,2.88,2.98),(21.947,2.92,2.87,2.97),(21.964,2.93,2.88,2.98),(21.980,3.05,3.00,3.10),
           (21.997,2.99,2.93,3.05),(22.013,3.15,3.09,3.21),(22.029,3.28,3.22,3.34),(22.046,3.26,3.20,3.32),(22.062,3.26,3.20,3.32),
           (22.079,3.08,3.02,3.14),(22.095,3.33,3.27,3.39),(22.112,2.18,2.10,2.26),(22.128,2.15,2.07,2.23),(22.144,2.04,1.96,2.12),
           (22.161,1.98,1.90,2.06),(22.180,1.90,1.82,1.98),(22.196,2.15,2.08,2.22),(22.212,2.40,2.34,2.46),(22.228,2.56,2.50,2.62),
           (22.245,2.84,2.78,2.90),(22.260,2.93,2.88,2.98),(22.277,3.05,3.00,3.10),(22.293,3.30,3.25,3.35),(22.310,3.36,3.31,3.41),
           (22.326,2.96,2.90,3.02),(22.344,2.77,2.70,2.84),(22.361,3.00,2.94,3.06),(22.377,2.91,2.85,2.97),(22.394,2.70,2.62,2.78),
           (22.410,1.50,1.20,1.80),(22.428,1.31,0.90,1.70),(22.450,1.22,0.70,1.60),(22.472,1.04,0.50,1.50),(22.489,1.10,0.45,1.50),
           (22.505,1.05,0.40,1.45),(22.522,0.99,0.40,1.40),(22.539,1.00,0.35,1.40),(22.556,1.01,0.35,1.40),(22.600,nan,nan,nan),
           (22.642,1.27,0.40,2.20),(22.660,0.99,0.40,2.25),(22.675,2.06,1.50,2.30),(22.693,1.11,0.60,1.70),(22.700,nan,nan,nan),
           (22.757,1.11,0.80,1.60),(22.774,1.50,1.00,1.90),(22.792,1.73,1.30,2.00),(22.808,1.04,0.80,1.50),(22.812,nan,nan,nan),
           (22.891,1.38,1.00,1.70),(22.910,1.63,1.30,1.95),(22.915,nan,nan,nan),(23.381,1.11,0.80,1.40),(23.396,1.47,1.10,1.85),
           (23.413,1.11,0.80,1.40),(23.420,nan,nan,nan),(23.478,4.33,4.20,4.40),(23.498,1.11,0.95,1.30),(23.515,1.92,1.65,2.20),
           (23.529,1.84,1.60,2.10),(23.546,1.63,1.38,1.90),(23.566,1.44,1.10,1.70),(23.580,0.99,0.45,1.35),(23.605,0.99,0.45,1.35),
           (23.613,1.14,0.70,1.40),(23.630,1.38,1.15,1.55),(23.646,1.53,1.35,1.70),(23.667,1.81,1.68,1.94),(23.684,2.18,2.08,2.28),
           (23.701,2.31,2.21,2.41),(23.718,2.71,2.61,2.81),(23.735,2.49,2.39,2.59),(23.756,2.68,2.58,2.78),(23.776,2.85,2.76,2.94),
           (23.791,3.10,3.02,3.18),(23.801,2.96,2.88,3.04),(23.814,2.81,2.73,2.89),(23.829,2.74,2.66,2.82),(23.843,2.66,2.58,2.74),
           (23.860,2.59,2.51,2.67),(23.877,2.52,2.44,2.60),(23.892,2.37,2.29,2.45),(23.907,2.33,2.25,2.41),(23.924,2.30,2.22,2.38),
           (23.939,2.26,2.15,2.37),(23.955,2.11,2.00,2.22),(23.970,2.00,1.88,2.12),(23.987,1.86,1.72,2.00)]

# isolated retrievals (hour, value) and isolated band columns (hour0, hour1, low, high)
lwp_adi_pts = [(22.725, 1.73), (22.944, 0.98), (23.144, 1.09)]
lwp_phy_pts = [(22.725, 1.18)]
lwp_2c_pts = [(23.317, 0.48)]
lwp_phy_cols = [(22.718, 22.733, -0.2, 1.40), (22.936, 22.952, -0.2, 1.15), (23.136, 23.150, -0.2, 1.25), (23.367, 23.416, -0.2, 1.20)]
lwp_adi_cols = [(22.718, 22.733, 1.60, 1.95), (22.936, 22.952, 0.50, 1.50), (23.136, 23.150, 0.90, 1.30)]

cyan_spans = [(21.533, 21.716), (22.033, 22.183), (22.250, 22.300), (22.317, 22.566)]
grey_spans = [(21.282, 21.298), (21.399, 21.415), (21.432, 21.448), (21.699, 21.716), (21.750, 21.766), (21.800, 21.816),
              (21.866, 21.882), (22.517, 22.898), (22.916, 23.449), (23.466, 23.499), (23.566, 23.617)]

# ---------------- panel 5 : DQ flag (hours at which each flag value appears) ----------------
dq_0 = [21.006,21.021,21.036,21.050,21.065,21.080,21.095,21.110,21.125,21.139,21.154,21.169,21.184,21.199,21.214,21.228,
        21.243,21.258,21.273,21.308,21.322,21.335,21.349,21.362,21.374,21.389,21.424,21.460,21.475,21.487,21.500,21.513,
        21.526,21.724,21.737,21.773,21.785,21.821,21.834,21.855,21.889,21.904,21.916,21.931,21.944,21.956,21.971,21.984,
        21.996,22.011,22.024,22.189,22.201,22.216,22.241,22.307,22.904,23.455,23.506,23.518,23.531,23.544,23.556,23.624,
        23.639,23.652,23.664,23.679,23.692,23.707,23.740,23.755,23.768,23.780,23.795,23.808,23.839,23.852,23.866,23.879,
        23.892,23.907,23.920,23.933,23.947,23.960,23.973,23.987]
dq_3 = [22.575,22.588,22.602,22.621,22.674,22.708,22.723,22.740,22.790,22.824,22.839,22.856,22.872,22.923,22.957,22.972,
        22.987,23.001,23.016,23.031,23.046,23.061,23.075,23.090,23.105,23.122,23.157,23.171,23.185,23.199,23.213,23.227,
        23.241,23.255,23.269,23.284,23.298,23.312,23.326,23.340,23.356,23.390]
dq_4 = [21.289,21.407,21.439,21.707,21.758,21.809,21.874,22.524,22.537,22.556,22.642,22.657,22.691,22.758,22.773,22.807,
        22.891,22.940,23.138,23.373,23.407,23.419,23.438,23.472,23.487,23.571,23.586,23.603]
dq_6 = [21.557,22.043,22.058,22.391,23.723,23.822]
dq_7 = [22.391]
dq_9 = [21.540,21.555,21.589,22.091,22.106,22.256,22.273,22.324,22.338,22.351,22.366,22.378,22.391]
dq_10 = [21.540,21.555,21.572,21.589,22.043,22.058,22.075,22.091,22.106,22.256,22.273,22.324,22.338,22.351,22.366,22.378,22.391]
dq_11 = [21.540,21.555,21.572,21.589,21.606,21.623,21.640,21.657,21.674,21.690,21.707,22.043,22.058,22.075,22.091,22.106,
         22.123,22.140,22.157,22.174,22.256,22.273,22.290,22.324,22.341,22.357,22.374,22.391,22.408,22.424,22.441,22.458,
         22.474,22.491,22.508,22.524,22.541,22.558]

xticks = [21, 21.5, 22, 22.5, 23, 23.5, 24]

# ---------------- drawing ----------------
BLUE_AX = '#0072BD'
DARK = '#262626'
C2 = '#0000FF'
C3 = '#ADD8E6'
CPHY = '#FF8C00'
CADI = '#800080'
TAN = '#D2B48C'
BROWN = '#A52A2A'

plt.rcParams['font.family'] = ['DejaVu Sans']


def xy(pairs):
    a = np.array(pairs, dtype=float)
    return [a[:, i] for i in range(a.shape[1])]


def spans(ax, lst, color):
    for t0, t1 in lst:
        ax.axvspan(t0, t1, ymin=-0.011, ymax=1, color=color, alpha=0.5, lw=0, zorder=3, clip_on=False)


def style(ax, ylabel, ylim, yticks):
    ax.set_xlim(21, 24)
    ax.set_ylim(*ylim)
    ax.set_xticks(xticks)
    ax.set_yticks(yticks)
    fmt = FuncFormatter(lambda v, p: f'{v:g}')
    ax.xaxis.set_major_formatter(fmt)
    ax.yaxis.set_major_formatter(fmt)
    ax.spines['top'].set_visible(False)
    ax.spines['left'].set_color(BLUE_AX)
    ax.spines['right'].set_color(BLUE_AX)
    ax.spines['bottom'].set_color(DARK)
    for s in ax.spines.values():
        s.set_linewidth(0.6)
    ax.tick_params(axis='x', direction='in', length=6.5, width=0.6, colors=DARK, labelsize=9, pad=8.2)
    ax.tick_params(axis='y', direction='in', length=6.5, width=0.6, colors=BLUE_AX, labelsize=9, pad=7.4)
    ax.set_xlabel('UTC hours on 20240919', fontsize=11.3, color=DARK, labelpad=6)
    ax.set_ylabel(ylabel, fontsize=11.2, color=BLUE_AX, labelpad=7)


def legend(ax, x, y):
    leg = ax.legend(loc='upper left', bbox_to_anchor=(x, y), frameon=False, fontsize=9.3,
                    handlelength=6.0, handletextpad=0.65, labelspacing=0.56,
                    borderaxespad=0, borderpad=0)
    leg.set_zorder(10)
    return leg


fig = plt.figure(figsize=(12.75, 20), dpi=300)
L, W, H = 0.0982, 0.6871, 0.1513
bottoms = [0.7995, 0.6120, 0.4245, 0.2370, 0.0496]
axs = [fig.add_axes([L, b, W, H]) for b in bottoms]

# panel 1
ax = axs[0]
t, v = xy(bt23_2c); ax.plot(t, v, color=C2, lw=1.0, label='MWR 2C (tan = wet window)')
t, v = xy(bt23_3c); ax.plot(t, v, color=C3, lw=1.3, label='MWR 3C')
t, v = xy(bt23_phy); ax.plot(t, v, color=CPHY, lw=2.2, label='Phy-Iter')
spans(ax, wet_window, TAN)
style(ax, 'Zenith BT 23 GHz, K', (20.7, 97.8), range(30, 91, 10))
legend(ax, 0.595, 0.916)

# panel 2
ax = axs[1]
t, v = xy(bt31_2c); ax.plot(t, v, color=C2, lw=1.0, label='MWR2C')
t, v = xy(bt31_3c); ax.plot(t, v, color=C3, lw=1.3, label='MWR 3C (tan = rain flag)')
t, v = xy(bt31_phy); ax.plot(t, v, color=CPHY, lw=2.2, label='Phy-Iter')
spans(ax, rain_flag, TAN)
style(ax, 'Zenith BT 31 GHz, K', (9.9, 119.1), range(20, 111, 10))
legend(ax, 0.609, 0.916)

# panel 3
ax = axs[2]
t, v = xy(pwv_2c); ax.plot(t, v, color=C2, lw=1.0, label='MWR 2C PWV')
t, v = xy(pwv_3c); ax.plot(t, v, color=C3, lw=1.3, label='MWR 3C PWV')
t, v = xy(pwv_phy)
ax.fill_between(t, v - pwv_phy_unc, v + pwv_phy_unc, color=CPHY, alpha=0.2, lw=0)
ax.plot(t, v, color=CPHY, lw=2.2, label='Phy-Iter PWV\n(tan = MWR 2C only)\n(brown = MWR 3C only)')
spans(ax, pwv_3c_only, BROWN)
spans(ax, pwv_2c_only, TAN)
style(ax, 'Precip. Water Vapor, mm', (1.152, 2.977), np.arange(1.2, 2.81, 0.2))
leg = legend(ax, 0.700, 0.899)
for txt in leg.get_texts():
    txt.set_linespacing(1.6)

# panel 4
ax = axs[3]
t, v, lo, hi = xy(lwp_phy)
ax.fill_between(t, lo, hi, color=CPHY, alpha=0.2, lw=0)
t2, v2, lo2, hi2 = xy(lwp_adi)
ax.fill_between(t2, lo2, hi2, color=CADI, alpha=0.15, lw=0)
for t0, t1, a, b in lwp_phy_cols:
    ax.fill_between([t0, t1], [a, a], [b, b], color=CPHY, alpha=0.2, lw=0)
for t0, t1, a, b in lwp_adi_cols:
    ax.fill_between([t0, t1], [a, a], [b, b], color=CADI, alpha=0.15, lw=0)
tb, vb = xy(lwp_2c); ax.plot(tb, vb, color=C2, lw=1.0, label='MWR 2C LWP')
tl, vl = xy(lwp_3c); ax.plot(tl, vl, color=C3, lw=1.3, label='MWR 3C LWP')
ax.plot(t, v, color=CPHY, lw=2.2, label='Phy-Iter LWP')
ax.plot(t2, v2, color=CADI, lw=1.0, label='Adiabatic LWP')
for pts, col in [(lwp_adi_pts, CADI), (lwp_phy_pts, CPHY), (lwp_2c_pts, C2)]:
    pt, pv = xy(pts)
    ax.plot(pt, pv, 'x', color=col, ms=5, mew=1.8, zorder=2)
spans(ax, cyan_spans, '#00FFFF')
spans(ax, grey_spans, '#CCCCCC')
style(ax, 'log10 Liquid Water Path, log10(g/m$^2$)', (-0.1, 4.51), np.arange(0, 4.51, 0.5))
legend(ax, 0.732, 0.952)

# panel 5
ax = axs[4]
for flag, times in [(0, dq_0), (3, dq_3), (4, dq_4), (6, dq_6), (7, dq_7), (9, dq_9), (10, dq_10), (11, dq_11)]:
    ax.plot(times, [flag] * len(times), 'o', color=CPHY, ms=2.2, mec='none', ls='none')
style(ax, 'MWR Phy Iter DQ Flag', (-0.51, 11.51), range(0, 11, 2))

fig.savefig('out.png', dpi=300)
